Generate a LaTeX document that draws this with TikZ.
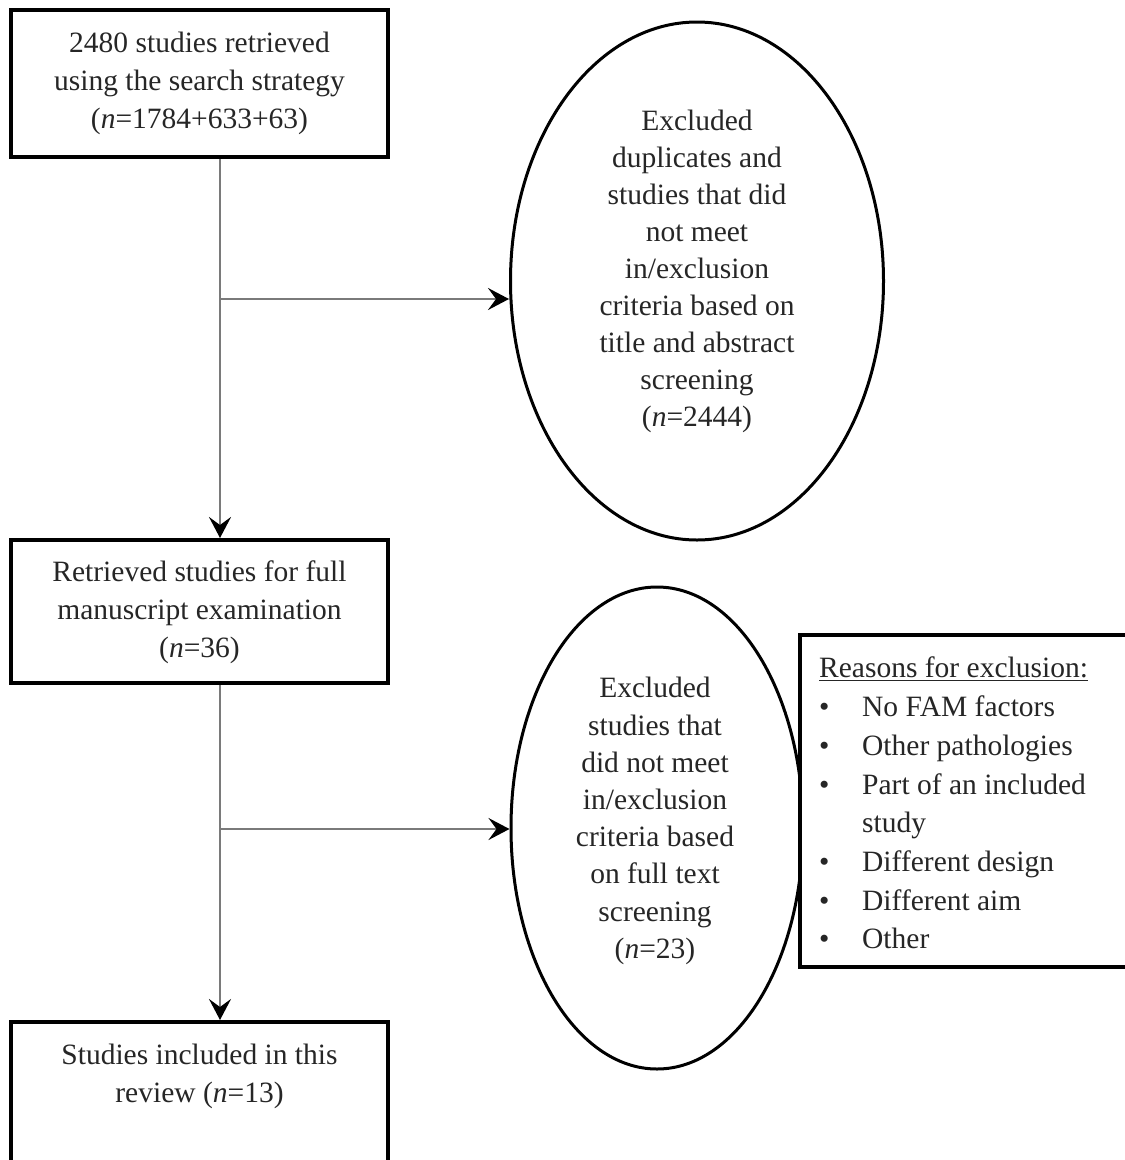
\documentclass[tikz,border=0pt]{standalone}
\usepackage{fontspec}
\setmainfont{Liberation Serif}
\usetikzlibrary{shapes.geometric,arrows.meta}
\definecolor{txtc}{HTML}{262626}
\definecolor{linec}{HTML}{7A7A7A}
\tikzset{
  >={Stealth[length=21pt,width=22pt,inset=8pt,black]},
  boxnode/.style={draw=black, line width=4pt, fill=white, minimum width=377pt, inner sep=0pt},
  ellnode/.style={ellipse, draw=black, line width=3pt, inner sep=0pt},
  txt/.style={align=center, text=txtc, font=\fontsize{29.5pt}{38pt}\selectfont, inner sep=0pt},
  conn/.style={draw=linec, line width=2.5pt, ->},
  plain/.style={draw=linec, line width=2.5pt}
}
\begin{document}
\begin{tikzpicture}[x=1pt,y=-1pt]
\clip (0,0) rectangle (1125,1160);
\fill[white] (0,0) rectangle (1125,1160);
% boxes
\node[boxnode, minimum height=147pt] (b1) at (199.5,83.5) {};
\node[txt] (t1) at (199.5,83) {2480 studies retrieved\\ using the search strategy\\ (\textit{n}=1784+633+63)};
\node[boxnode, minimum height=143pt] (b2) at (199.5,611.5) {};
\node[txt] (t2) at (199.5,612) {Retrieved studies for full\\ manuscript examination\\ (\textit{n}=36)};
\node[boxnode, minimum height=150pt] (b3) at (199.5,1097) {};
\node[txt] (t3) at (199.5,1076) {Studies included in this\\ review (\textit{n}=13)};
% ellipses
\node[ellnode, minimum width=373pt, minimum height=518pt] (e1) at (697,281) {};
\node[txt, font=\fontsize{29.5pt}{37pt}\selectfont] (te1) at (697,271) {Excluded\\ duplicates and\\ studies that did\\ not meet\\ in/exclusion\\ criteria based on\\ title and abstract\\ screening\\ (\textit{n}=2444)};
\node[ellnode, minimum width=292pt, minimum height=482pt] (e2) at (657,828) {};
\node[txt, font=\fontsize{29.5pt}{37.2pt}\selectfont] (te2) at (655,821) {Excluded\\ studies that\\ did not meet\\ in/exclusion\\ criteria based\\ on full text\\ screening\\ (\textit{n}=23)};
% reasons box
\draw[black, line width=4pt, fill=white] (800,635) rectangle (1140,967);
\node[txt, align=left, anchor=north west, font=\fontsize{29.5pt}{38.7pt}\selectfont] (r) at (819,657)
 {\underline{Reasons for exclusion:}\\
  \makebox[43pt][l]{\textbullet}No FAM factors\\
  \makebox[43pt][l]{\textbullet}Other pathologies\\
  \makebox[43pt][l]{\textbullet}Part of an included\\
  \hspace*{43pt}study\\
  \makebox[43pt][l]{\textbullet}Different design\\
  \makebox[43pt][l]{\textbullet}Different aim\\
  \makebox[43pt][l]{\textbullet}Other};
% connectors
\coordinate (j1) at (220,299);
\coordinate (j2) at (220,829);
\draw[conn] (b1.south -| j1) -- (b2.north -| j1);
\draw[conn] (j1) -- (j1 -| e1.west);
\draw[conn] (b2.south -| j2) -- (b3.north -| j2);
\draw[conn] (j2) -- (j2 -| e2.west);
\end{tikzpicture}
\end{document}
